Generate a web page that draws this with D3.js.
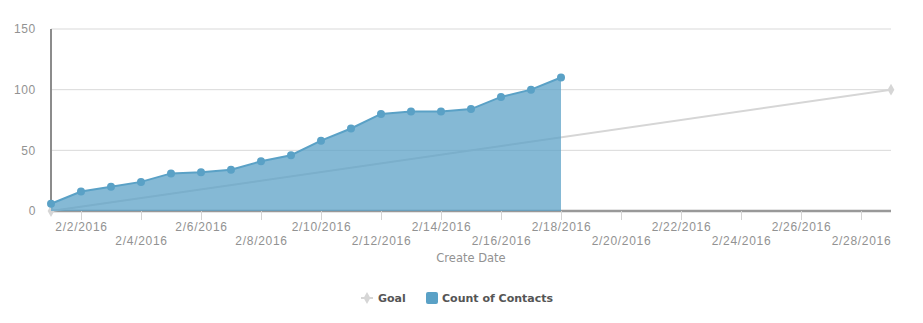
<!DOCTYPE html>
<html>
<head>
<meta charset="utf-8">
<script src="https://cdn.jsdelivr.net/npm/d3@7"></script>
<style>
  html, body { margin: 0; padding: 0; background: #fff; }
  svg { display: block; font-family: "DejaVu Sans", sans-serif; }
</style>
</head>
<body>
<svg id="chart" width="923" height="323"></svg>
<script>
// Daily contact counts (cumulative) for February 2016
const dates = ["2016-02-01","2016-02-02","2016-02-03","2016-02-04","2016-02-05","2016-02-06",
  "2016-02-07","2016-02-08","2016-02-09","2016-02-10","2016-02-11","2016-02-12",
  "2016-02-13","2016-02-14","2016-02-15","2016-02-16","2016-02-17","2016-02-18"];
const contacts = [6, 16, 20, 24, 31, 32, 34, 41, 46, 58, 68, 80, 82, 82, 84, 94, 100, 110];

// Goal line: straight ramp across the month
const goalDates = ["2016-02-01", "2016-02-29"];
const goalValues = [0, 100];

const xDomain = ["2016-02-01", "2016-02-29"];
const yTicks = [0, 50, 100, 150];
const xTickLabels = ["2/2/2016","2/4/2016","2/6/2016","2/8/2016","2/10/2016","2/12/2016","2/14/2016",
  "2/16/2016","2/18/2016","2/20/2016","2/22/2016","2/24/2016","2/26/2016","2/28/2016"];

const legendItems = ["Goal", "Count of Contacts"];
const xTitle = "Create Date";

const parse = d3.timeParse("%Y-%m-%d");
const parseLabel = d3.timeParse("%m/%d/%Y");
const fmt = d => `${d.getMonth() + 1}/${d.getDate()}/${d.getFullYear()}`;

const svg = d3.select("#chart");
const plot = { left: 51, right: 891, top: 29, bottom: 211 };

const x = d3.scaleTime().domain(xDomain.map(parse)).range([plot.left, plot.right]);
const y = d3.scaleLinear().domain([0, 150]).range([plot.bottom, plot.top]);

const blue = "#5aa1c6";
const grey = "#d6d6d6";
const labelGrey = "#929292";

// Horizontal grid lines
svg.append("g").selectAll("line").data(yTicks.filter(v => v > 0)).join("line")
  .attr("x1", plot.left).attr("x2", plot.right)
  .attr("y1", d => y(d)).attr("y2", d => y(d))
  .attr("stroke", "#d9d9d9").attr("stroke-width", 1);

// Y axis labels
const yAxis = d3.axisLeft(y).tickValues(yTicks).tickSize(0).tickPadding(15);
const gy = svg.append("g").attr("transform", `translate(${plot.left},0)`).call(yAxis);
gy.select(".domain").remove();
gy.selectAll("text").attr("fill", labelGrey).attr("font-size", 12).attr("letter-spacing", 0.7);

// X axis with alternating label rows
const tickDates = xTickLabels.map(parseLabel);
const xAxis = d3.axisBottom(x).tickValues(tickDates).tickFormat(fmt).tickSize(9).tickPadding(5);
const gx = svg.append("g").attr("transform", `translate(0,${plot.bottom})`).call(xAxis);
gx.select(".domain").attr("stroke", "#999").attr("stroke-width", 2.5)
  .attr("d", `M${plot.left},0H${plot.right}`);
gx.selectAll(".tick line").attr("stroke", "#d4d4d4");
gx.selectAll(".tick text")
  .attr("fill", labelGrey).attr("font-size", 12).attr("letter-spacing", 0.7)
  .attr("dy", null)
  .attr("y", (d, i) => i % 2 === 0 ? 19.5 : 33.5);

// Y axis line
svg.append("line").attr("x1", plot.left).attr("x2", plot.left)
  .attr("y1", plot.top).attr("y2", plot.bottom + 1)
  .attr("stroke", "#8c8c8c").attr("stroke-width", 2);

// Goal line (drawn under the area so it shows through)
const goalData = goalDates.map((d, i) => ({ date: parse(d), value: goalValues[i] }));
svg.append("path").datum(goalData)
  .attr("d", d3.line().x(d => x(d.date)).y(d => y(d.value)))
  .attr("fill", "none").attr("stroke", grey).attr("stroke-width", 2);
const diamond = d3.symbol().type(d3.symbolDiamond).size(40);
svg.append("g").selectAll("path").data(goalData).join("path")
  .attr("d", diamond)
  .attr("transform", d => `translate(${x(d.date)},${y(d.value)})`)
  .attr("fill", grey);

// Contacts area + line + points
const data = dates.map((d, i) => ({ date: parse(d), value: contacts[i] }));
svg.append("path").datum(data)
  .attr("d", d3.area().x(d => x(d.date)).y0(y(0)).y1(d => y(d.value)))
  .attr("fill", blue).attr("fill-opacity", 0.74);
svg.append("path").datum(data)
  .attr("d", d3.line().x(d => x(d.date)).y(d => y(d.value)))
  .attr("fill", "none").attr("stroke", blue).attr("stroke-width", 2);
svg.append("g").selectAll("circle").data(data).join("circle")
  .attr("cx", d => x(d.date)).attr("cy", d => y(d.value)).attr("r", 4)
  .attr("fill", blue);

// Axis title
svg.append("text").attr("x", (plot.left + plot.right) / 2).attr("y", 262)
  .attr("text-anchor", "middle").attr("fill", labelGrey).attr("font-size", 11.5)
  .text(xTitle);

// Legend
const lg = svg.append("g").attr("font-size", 11).attr("font-weight", "bold").attr("fill", "#555");
lg.append("line").attr("x1", 361).attr("x2", 373).attr("y1", 298).attr("y2", 298)
  .attr("stroke", grey).attr("stroke-width", 2);
lg.append("path").attr("d", diamond).attr("transform", "translate(367,298)").attr("fill", grey);
lg.append("text").attr("x", 378).attr("y", 302).text(legendItems[0]);
lg.append("rect").attr("x", 426).attr("y", 292).attr("width", 12).attr("height", 12)
  .attr("rx", 2).attr("fill", blue);
lg.append("text").attr("x", 442).attr("y", 302).text(legendItems[1]);
</script>
</body>
</html>
